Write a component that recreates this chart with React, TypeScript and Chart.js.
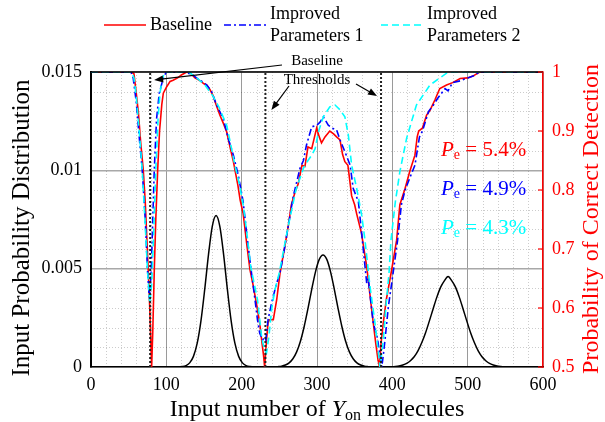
import React, { useEffect, useRef } from 'react';
import { Chart, registerables } from 'chart.js';

Chart.register(...registerables);

// ---------- data ----------
const xTickLabels = ['0', '100', '200', '300', '400', '500', '600'];
const leftTickLabels = ['0', '0.005', '0.01', '0.015'];
const rightTickLabels = ['0.5', '0.6', '0.7', '0.8', '0.9', '1'];

const seriesNames = ['Baseline', 'Improved Parameters 1', 'Improved Parameters 2'];
const peLabels = ['5.4%', '4.9%', '4.3%'];
const thresholds = [78.5, 231.5, 385];

// input probability distribution (left axis)
const distX = [0, 116, 121, 126, 131, 136, 141, 146, 151, 156, 161, 166, 171, 176, 181, 186, 191, 196, 201, 206, 211, 216,
  243, 248, 253, 258, 263, 268, 273, 278, 283, 288, 293, 298, 303, 308, 313, 318, 323, 328, 333, 338, 343, 348, 353, 358, 363, 368, 373,
  389, 394, 399, 404, 409, 414, 419, 424, 429, 434, 439, 444, 449, 454, 459, 464, 469, 474, 479, 484, 489, 494, 499, 504, 509, 514, 519, 524, 529, 534, 539, 544, 549, 554, 559, 600];
const distY = [0, 0, 0.00002, 0.00007, 0.00021, 0.00054, 0.00121, 0.00236, 0.00396, 0.00573, 0.00715, 0.0077, 0.00715, 0.00573, 0.00396, 0.00236, 0.00121, 0.00054, 0.00021, 0.00007, 0.00002, 0,
  0, 0.000016, 0.00004, 0.0001, 0.00021, 0.00042, 0.00077, 0.00131, 0.00206, 0.00297, 0.00395, 0.00484, 0.00547, 0.0057, 0.00547, 0.00484, 0.00395, 0.00297, 0.00206, 0.00131, 0.00077, 0.00042, 0.00021, 0.0001, 0.00004, 0.000016, 0,
  0, 0.000005, 0.0000115, 0.000025, 0.00005, 0.0001, 0.00018, 0.00032, 0.00052, 0.00082, 0.00123, 0.00173, 0.00232, 0.00294, 0.00354, 0.00405, 0.00438, 0.0046, 0.00438, 0.00405, 0.00354, 0.00294, 0.00232, 0.00173, 0.00123, 0.00082, 0.00052, 0.00032, 0.00018, 0.0001, 0.00005, 0.000025, 0.0000115, 0.000005, 0, 0];

// probability of correct detection (right axis)
const baseX = [0, 54, 57, 60, 63, 66, 69.4, 72, 76, 78, 80.5, 82, 84, 86, 88.5, 91, 94, 96, 100.5, 105, 109, 115, 120, 127, 132, 138, 145, 150, 153.6, 158,
  162, 166, 171, 176, 180, 185, 189, 195, 198, 202, 206.6, 211, 215, 220, 224, 226.5, 229, 230.5, 233, 235, 237, 242, 246.5, 251, 256.7, 262, 266, 271, 275, 280,
  284, 288, 293, 299.5, 303, 306, 310.6, 317, 322, 326, 330.5, 334, 337, 341, 346, 350, 352.6, 359, 366, 372.6, 378, 381, 383, 385, 388, 392, 399, 405.7, 410, 417,
  423, 430, 433, 435, 440, 445.5, 450, 456.6, 463, 472, 480, 490, 500, 507, 516, 600];
const baseY = [1, 1, 0.997, 0.965, 0.93, 0.88, 0.834, 0.78, 0.664, 0.6, 0.5, 0.56, 0.664, 0.75, 0.834, 0.9, 0.945, 0.964, 0.975, 0.984, 0.986, 0.99, 0.995, 1, 0.998, 0.99, 0.985, 0.98, 0.978, 0.97,
  0.96, 0.945, 0.927, 0.912, 0.899, 0.87, 0.848, 0.808, 0.783, 0.76, 0.71, 0.665, 0.64, 0.605, 0.574, 0.546, 0.52, 0.5, 0.546, 0.575, 0.58, 0.58, 0.614, 0.66, 0.7, 0.74, 0.775, 0.797, 0.81, 0.842,
  0.84, 0.873, 0.87, 0.905, 0.89, 0.88, 0.89, 0.9, 0.895, 0.89, 0.885, 0.86, 0.848, 0.842, 0.79, 0.775, 0.76, 0.727, 0.67, 0.597, 0.54, 0.512, 0.5, 0.54, 0.575, 0.614, 0.664, 0.715, 0.775, 0.803,
  0.831, 0.859, 0.89, 0.9, 0.905, 0.927, 0.935, 0.953, 0.972, 0.978, 0.982, 0.989, 0.99, 0.993, 1, 1];

const imp1X = [0, 53, 56, 60, 64, 68, 72, 75, 77.5, 80, 82, 84, 87, 90.6, 96, 100, 110, 125, 135, 140, 145, 153.6, 160, 166.7, 175.6, 182, 189, 195.5, 202, 206.6,
  212, 217.7, 221, 224, 228, 230, 232, 235, 240, 246, 251, 256.7, 262, 268.6, 277.5, 282, 286, 293, 300, 304, 308.4, 315, 320, 326, 330.5, 337, 344, 348, 355, 359,
  366, 368, 374.7, 380, 383, 386, 388, 390.3, 394.7, 401, 407, 412, 417, 423, 430, 436, 440, 448, 455, 460, 470, 474, 480, 490, 500, 507, 516, 600];
const imp1Y = [1, 1, 0.99, 0.95, 0.89, 0.834, 0.75, 0.664, 0.614, 0.664, 0.75, 0.834, 0.92, 0.964, 0.99, 1, 1, 1, 0.995, 0.99, 0.986, 0.978, 0.967, 0.944, 0.921, 0.888, 0.859, 0.825, 0.78, 0.727,
  0.67, 0.614, 0.58, 0.557, 0.546, 0.55, 0.546, 0.58, 0.61, 0.64, 0.66, 0.7, 0.74, 0.79, 0.837, 0.85, 0.876, 0.907, 0.91, 0.915, 0.924, 0.91, 0.905, 0.902, 0.885, 0.865, 0.842, 0.803, 0.78, 0.73,
  0.642, 0.65, 0.574, 0.55, 0.525, 0.5, 0.52, 0.546, 0.602, 0.659, 0.715, 0.775, 0.8, 0.82, 0.842, 0.89, 0.9, 0.933, 0.945, 0.955, 0.972, 0.968, 0.982, 0.985, 0.99, 0.993, 1, 1];

const imp2X = [0, 54, 57, 60, 64, 68, 72, 75, 78, 80.5, 83, 86, 89, 91.5, 95, 98, 110, 130, 140, 150, 161.5, 170, 180, 185, 191, 197, 202, 206.6, 212, 221,
  226.6, 230, 233, 236, 240, 244, 250, 256, 262, 267, 272, 282, 288, 293, 297.5, 302, 308.4, 317, 324, 330.5, 337, 341.6, 346, 352.6, 359, 363.7, 370, 377, 381, 383.6,
  388, 391.5, 395.6, 398.2, 404, 410, 419, 432, 450, 472, 480, 600];
const imp2Y = [1, 1, 0.99, 0.96, 0.9, 0.834, 0.74, 0.664, 0.608, 0.64, 0.72, 0.834, 0.92, 0.964, 0.99, 1, 1, 1, 0.99, 0.98, 0.96, 0.94, 0.91, 0.88, 0.842, 0.81, 0.775, 0.73, 0.67, 0.614,
  0.55, 0.53, 0.524, 0.55, 0.6, 0.63, 0.66, 0.7, 0.74, 0.77, 0.8, 0.837, 0.85, 0.859, 0.87, 0.899, 0.924, 0.941, 0.944, 0.936, 0.924, 0.893, 0.842, 0.803, 0.76, 0.715, 0.64, 0.574, 0.53, 0.5,
  0.546, 0.602, 0.659, 0.715, 0.78, 0.831, 0.888, 0.944, 0.978, 0.998, 1, 1];

// ---------- styling ----------
const FONT = "'Liberation Serif', 'Times New Roman', serif";
const RED = '#ff0000';
const BLUE = '#0000ff';
const CYAN = '#00ffff';
const DASH_BLUE = [7, 3, 2, 3];
const DASH_CYAN = [7, 4];
const minorXStep = 20;
const minorYStep = 0.001;

const zip = (xs: number[], ys: number[]) => xs.map((x, i) => ({ x, y: ys[i] }));

type Seg = { t: string; font: string; dy?: number; color?: string };

function drawRich(ctx: CanvasRenderingContext2D, segs: Seg[], x: number, y: number, align: 'left' | 'center', color: string) {
  ctx.save();
  ctx.textBaseline = 'middle';
  ctx.textAlign = 'left';
  let total = 0;
  for (const s of segs) { ctx.font = s.font; total += ctx.measureText(s.t).width; }
  let cx = align === 'center' ? x - total / 2 : x;
  for (const s of segs) {
    ctx.font = s.font;
    ctx.fillStyle = s.color || color;
    ctx.fillText(s.t, cx, y + (s.dy || 0));
    cx += ctx.measureText(s.t).width;
  }
  ctx.restore();
}

function arrow(ctx: CanvasRenderingContext2D, x1: number, y1: number, x2: number, y2: number) {
  const ang = Math.atan2(y2 - y1, x2 - x1);
  const L = 9, W = 3.5;
  ctx.beginPath();
  ctx.moveTo(x1, y1);
  ctx.lineTo(x2 - Math.cos(ang) * L * 0.8, y2 - Math.sin(ang) * L * 0.8);
  ctx.stroke();
  ctx.beginPath();
  ctx.moveTo(x2, y2);
  ctx.lineTo(x2 - Math.cos(ang) * L - Math.sin(ang) * W, y2 - Math.sin(ang) * L + Math.cos(ang) * W);
  ctx.lineTo(x2 - Math.cos(ang) * L + Math.sin(ang) * W, y2 - Math.sin(ang) * L - Math.cos(ang) * W);
  ctx.closePath();
  ctx.fill();
}

const decor = {
  id: 'decor',
  beforeDatasetsDraw(chart: any) {
    const { ctx, chartArea: a, scales } = chart;
    const sx = scales.x, sy = scales.y;
    ctx.save();
    ctx.strokeStyle = 'rgba(0,0,0,0.2)';
    ctx.lineWidth = 1;
    ctx.setLineDash([1, 2]);
    for (let v = minorXStep; v < sx.max; v += minorXStep) {
      if (v % 100 === 0) continue;
      const px = Math.round(sx.getPixelForValue(v)) + 0.5;
      ctx.beginPath(); ctx.moveTo(px, a.top); ctx.lineTo(px, a.bottom); ctx.stroke();
    }
    for (let k = 1; k * minorYStep < sy.max - 1e-9; k++) {
      if (k % 5 === 0) continue;
      const py = Math.round(sy.getPixelForValue(k * minorYStep)) + 0.5;
      ctx.beginPath(); ctx.moveTo(a.left, py); ctx.lineTo(a.right, py); ctx.stroke();
    }
    ctx.restore();
  },
  afterDatasetsDraw(chart: any) {
    const { ctx, chartArea: a, scales } = chart;
    ctx.save();
    ctx.strokeStyle = '#222';
    ctx.lineWidth = 2;
    ctx.setLineDash([2, 2]);
    for (const t of thresholds) {
      const px = scales.x.getPixelForValue(t);
      ctx.beginPath(); ctx.moveTo(px, a.bottom); ctx.lineTo(px, a.top); ctx.stroke();
    }
    ctx.restore();
  },
  afterDraw(chart: any) {
    const { ctx, chartArea: a, scales } = chart;
    const sx = scales.x, sy2 = scales.y2;
    ctx.save();
    // top border
    ctx.strokeStyle = '#000';
    ctx.lineWidth = 1.5;
    ctx.beginPath(); ctx.moveTo(a.left, a.top); ctx.lineTo(a.right, a.top); ctx.stroke();
    // red inner ticks on right axis
    ctx.strokeStyle = RED;
    ctx.lineWidth = 1.2;
    sy2.ticks.forEach((t: any) => {
      const py = sy2.getPixelForValue(t.value);
      ctx.beginPath(); ctx.moveTo(a.right - 5, py); ctx.lineTo(a.right, py); ctx.stroke();
    });

    // legend
    const ly = 25;
    const items = [
      { c: RED, d: [] as number[], x: 104, lines: [seriesNames[0]] },
      { c: BLUE, d: DASH_BLUE, x: 224, lines: ['Improved', 'Parameters 1'] },
      { c: CYAN, d: DASH_CYAN, x: 381, lines: ['Improved', 'Parameters 2'] },
    ];
    for (const it of items) {
      ctx.strokeStyle = it.c;
      ctx.lineWidth = 1.6;
      ctx.setLineDash(it.d);
      ctx.beginPath(); ctx.moveTo(it.x, ly); ctx.lineTo(it.x + 42, ly); ctx.stroke();
      ctx.setLineDash([]);
      ctx.fillStyle = '#000';
      ctx.font = `18px ${FONT}`;
      ctx.textBaseline = 'middle';
      ctx.textAlign = 'left';
      if (it.lines.length === 1) ctx.fillText(it.lines[0], it.x + 46, ly);
      else { ctx.fillText(it.lines[0], it.x + 46, ly - 11); ctx.fillText(it.lines[1], it.x + 46, ly + 11); }
    }

    // annotation
    ctx.fillStyle = '#000';
    ctx.strokeStyle = '#000';
    ctx.lineWidth = 1.2;
    ctx.font = `15px ${FONT}`;
    ctx.textAlign = 'center';
    ctx.textBaseline = 'middle';
    ctx.fillText('Baseline', 317, 61);
    ctx.fillText('Thresholds', 317, 80);
    arrow(ctx, 282, 65, sx.getPixelForValue(thresholds[0]) + 4, 80);
    arrow(ctx, 289, 86, sx.getPixelForValue(thresholds[1]) + 6, 110);
    arrow(ctx, 356, 84, sx.getPixelForValue(thresholds[2]) - 4, 96);

    // Pe labels
    const peColors = [RED, BLUE, CYAN];
    const peY = [150, 189, 228];
    peLabels.forEach((lab, i) => {
      drawRich(ctx, [
        { t: 'P', font: `italic 21px ${FONT}` },
        { t: 'e', font: `14px ${FONT}`, dy: 5 },
        { t: ' = ' + lab, font: `21px ${FONT}` },
      ], 441, peY[i], 'left', peColors[i]);
    });

    // axis titles
    drawRich(ctx, [
      { t: 'Input number of ', font: `24px ${FONT}` },
      { t: 'Y', font: `italic 24px ${FONT}` },
      { t: 'on', font: `16px ${FONT}`, dy: 6 },
      { t: ' molecules', font: `24px ${FONT}` },
    ], (a.left + a.right) / 2, 410, 'center', '#000');

    ctx.save();
    ctx.translate(22, 228);
    ctx.rotate(-Math.PI / 2);
    ctx.font = `25px ${FONT}`;
    ctx.fillStyle = '#000';
    ctx.textAlign = 'center';
    ctx.textBaseline = 'middle';
    ctx.fillText('Input Probability Distribution', 0, 0);
    ctx.restore();

    ctx.save();
    ctx.translate(592, 219);
    ctx.rotate(-Math.PI / 2);
    ctx.font = `24px ${FONT}`;
    ctx.fillStyle = RED;
    ctx.textAlign = 'center';
    ctx.textBaseline = 'middle';
    ctx.fillText('Probability of Correct Detection', 0, 0);
    ctx.restore();

    ctx.restore();
  },
};

export default function App() {
  const ref = useRef<HTMLCanvasElement | null>(null);
  useEffect(() => {
    if (!ref.current) return;
    const tickFont = { family: FONT, size: 18 };
    const chart = new Chart(ref.current, {
      type: 'line',
      data: {
        datasets: [
          { label: seriesNames[2], data: zip(imp2X, imp2Y), yAxisID: 'y2', borderColor: CYAN, borderWidth: 1.6, borderDash: DASH_CYAN, pointRadius: 0, fill: false },
          { label: seriesNames[1], data: zip(imp1X, imp1Y), yAxisID: 'y2', borderColor: BLUE, borderWidth: 1.6, borderDash: DASH_BLUE, pointRadius: 0, fill: false },
          { label: seriesNames[0], data: zip(baseX, baseY), yAxisID: 'y2', borderColor: RED, borderWidth: 1.6, pointRadius: 0, fill: false },
          { label: 'Input distribution', data: zip(distX, distY), yAxisID: 'y', borderColor: '#000', borderWidth: 1.5, pointRadius: 0, fill: false, cubicInterpolationMode: 'monotone' },
        ] as any,
      },
      options: {
        animation: false,
        responsive: false,
        devicePixelRatio: 1,
        layout: { padding: { top: 72, left: 0, right: 0, bottom: 0 } },
        plugins: { legend: { display: false }, tooltip: { enabled: false } },
        scales: {
          x: {
            type: 'linear', min: 0, max: 600,
            ticks: { stepSize: 100, autoSkip: false, maxRotation: 0, color: '#000', font: tickFont, padding: 7, callback: (_v: any, i: number) => xTickLabels[i] },
            grid: { color: '#9a9a9a', lineWidth: 1, drawTicks: false },
            border: { color: '#000', width: 1.5 },
            afterFit: (s: any) => { s.height = 55; },
          },
          y: {
            type: 'linear', position: 'left', min: 0, max: 0.015,
            ticks: { stepSize: 0.005, color: '#000', font: tickFont, padding: 9, callback: (_v: any, i: number) => leftTickLabels[i] },
            grid: { color: '#a8a8a8', lineWidth: 1.5, drawTicks: false },
            border: { color: '#000', width: 2 },
            afterFit: (s: any) => { s.width = 91; },
          },
          y2: {
            type: 'linear', position: 'right', min: 0.5, max: 1,
            ticks: { stepSize: 0.1, color: RED, font: tickFont, padding: 9, callback: (_v: any, i: number) => rightTickLabels[i] },
            grid: { drawOnChartArea: false, drawTicks: false },
            border: { color: RED, width: 1.5 },
            afterFit: (s: any) => { s.width = 62; },
          },
        },
      } as any,
      plugins: [decor],
    });
    return () => chart.destroy();
  }, []);
  return (
    <div style={{ position: 'absolute', left: 0, top: 0, width: 605, height: 422, background: '#fff' }}>
      <canvas ref={ref} width={605} height={422} style={{ display: 'block' }} />
    </div>
  );
}
